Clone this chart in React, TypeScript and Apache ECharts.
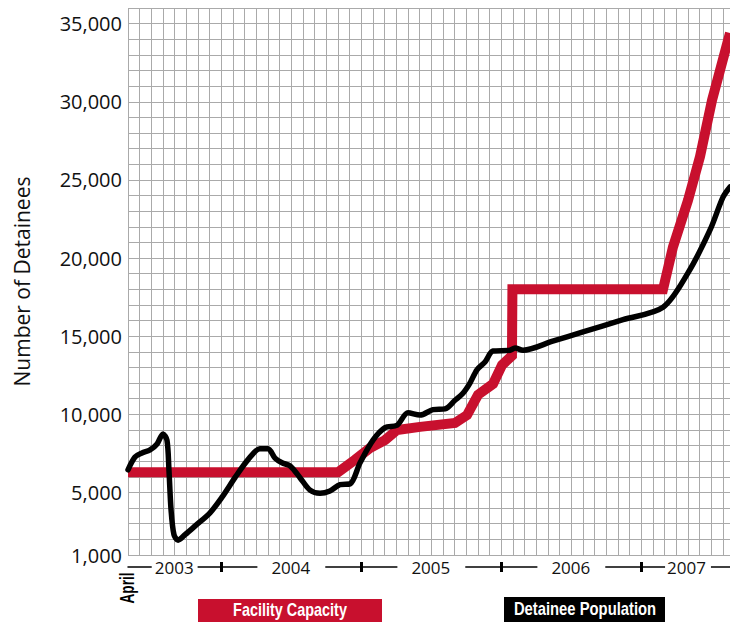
import React, { useEffect, useRef } from "react";
import * as echarts from "echarts";

// x values are months counted from the left edge of the plot (late April 2003)
const capacityMonths = [0, 18.0, 19.46, 20.74, 22.03, 23.06, 25.03, 28.03, 29.06, 30.0, 31.29, 32.06, 32.91, 32.95, 45.86, 46.71, 48.0, 49.03, 50.06, 51.6];
const capacityValues = [6300, 6300, 7100, 7850, 8350, 9000, 9200, 9450, 9950, 11250, 11950, 13150, 13750, 18000, 18000, 20700, 23700, 26500, 30100, 34400];

const populationMonths = [0, 0.6, 1.2, 1.89, 2.49, 3.0, 3.34, 3.51, 3.69, 3.94, 4.29, 4.89, 5.74, 7.03, 8.06, 9.17, 10.29, 11.31, 12.0, 12.6, 13.2, 13.89, 14.74, 15.6, 16.46, 17.31, 18.17, 19.03, 19.89, 21.0, 22.03, 23.06, 24.0, 25.03, 26.14, 27.17, 28.03, 28.71, 29.31, 29.91, 30.6, 31.29, 32.74, 33.17, 33.86, 36.4, 39.0, 42.43, 45.86, 48.0, 49.89, 51.0, 51.6];
const populationValues = [6450, 7270, 7530, 7720, 8100, 8750, 8350, 6450, 3900, 2300, 1950, 2300, 2850, 3700, 4700, 5950, 7100, 7800, 7800, 7200, 6900, 6700, 5950, 5150, 4950, 5100, 5500, 5550, 6900, 8350, 9150, 9300, 10100, 9950, 10300, 10350, 10900, 11350, 12000, 12850, 13350, 14050, 14100, 14250, 14100, 14680, 15270, 16060, 16850, 19050, 21800, 23900, 24550];

const yLabelValues = [1000, 5000, 10000, 15000, 20000, 25000, 30000, 35000];
const yLabelTexts = ["1,000", "5,000", "10,000", "15,000", "20,000", "25,000", "30,000", "35,000"];

const yearLabels = ["2003", "2004", "2005", "2006", "2007"];
const yearLabelMonths = [4, 14, 26, 38, 48];
const yearTickMonths = [8, 20, 32, 44];

const seriesNames = ["Facility Capacity", "Detainee Population"];

const RED = "#c8102e";
const X_MAX = 51.6;

export default function App() {
  const ref = useRef<HTMLDivElement>(null);
  useEffect(() => {
    document.body.style.margin = "0";
    if (!ref.current) return;
    const chart = echarts.init(ref.current, undefined, { renderer: "svg" });
    const font = "'Open Sans', 'Noto Sans', sans-serif";
    const narrow = "'Liberation Sans', Arial, sans-serif";
    const yearAxisBase = {
      type: "value",
      min: 0,
      max: X_MAX,
      interval: 1,
      position: "bottom",
      offset: 12,
      splitLine: { show: false },
    };
    chart.setOption({
      animation: false,
      backgroundColor: "#ffffff",
      grid: { left: 128, top: 8, right: 0, bottom: 67 },
      xAxis: [
        {
          type: "value",
          min: 0,
          max: X_MAX,
          interval: 1,
          axisLine: { show: false },
          axisTick: { show: false },
          axisLabel: { show: false },
          splitLine: { show: true, lineStyle: { color: "#aaaaaa", width: 1 } },
        },
        {
          ...yearAxisBase,
          axisLine: { show: true, lineStyle: { color: "#000", width: 1.5 } },
          axisTick: { show: true, customValues: yearTickMonths, length: 5, lineStyle: { color: "#000", width: 3 } },
          axisLabel: {
            show: true,
            customValues: yearLabelMonths,
            margin: 0,
            verticalAlign: "middle",
            formatter: (v: number) => {
              const i = yearLabelMonths.indexOf(v);
              if (i < 0) return "";
              if (i === 0) return `{a|${yearLabels[i]}}`;
              if (i === yearLabels.length - 1) return `{c|${yearLabels[i]}}`;
              return `{b|${yearLabels[i]}}`;
            },
            rich: {
              a: { backgroundColor: "#fff", padding: [2, 4, 2, 3], fontSize: 17, fontFamily: font, color: "#111" },
              b: { backgroundColor: "#fff", padding: [2, 15, 2, 14], fontSize: 17, fontFamily: font, color: "#111" },
              c: { backgroundColor: "#fff", padding: [2, 5, 2, 2], fontSize: 17, fontFamily: font, color: "#111" },
            },
          },
        },
        {
          ...yearAxisBase,
          axisLine: { show: false },
          axisTick: { show: true, inside: true, customValues: yearTickMonths, length: 5, lineStyle: { color: "#000", width: 3 } },
          axisLabel: { show: false },
        },
      ],
      yAxis: {
        type: "value",
        min: 1000,
        max: 36000,
        interval: 1000,
        name: "Number of Detainees",
        nameLocation: "middle",
        nameGap: 96,
        nameTextStyle: { fontSize: 21, fontFamily: font, color: "#111" },
        axisLine: { show: false },
        axisTick: { show: false },
        axisLabel: {
          customValues: yLabelValues,
          margin: 6,
          fontSize: 20,
          fontFamily: font,
          color: "#111",
          formatter: (v: number) => {
            const i = yLabelValues.indexOf(v);
            return i >= 0 ? yLabelTexts[i] : "";
          },
        },
        splitLine: { show: true, lineStyle: { color: "#aaaaaa", width: 1 } },
      },
      series: [
        {
          name: seriesNames[0],
          type: "line",
          xAxisIndex: 0,
          showSymbol: false,
          data: capacityMonths.map((m, i) => [m, capacityValues[i]]),
          lineStyle: { color: RED, width: 10, join: "miter" },
          z: 2,
        },
        {
          name: seriesNames[1],
          type: "line",
          xAxisIndex: 0,
          showSymbol: false,
          smooth: 0.3,
          data: populationMonths.map((m, i) => [m, populationValues[i]]),
          lineStyle: { color: "#000", width: 5.5, cap: "round", join: "round" },
          z: 3,
        },
      ],
      graphic: [
        {
          type: "text",
          x: 127,
          y: 588,
          rotation: Math.PI / 2,
          scaleX: 0.65,
          style: { text: "April", fontSize: 21, fontWeight: "bold", fontFamily: narrow, fill: "#000", textAlign: "center", textVerticalAlign: "middle" },
        },
        { type: "rect", shape: { x: 198, y: 599, width: 184, height: 23 }, style: { fill: RED } },
        {
          type: "text",
          x: 290,
          y: 610,
          scaleX: 0.78,
          style: { text: seriesNames[0], fontSize: 18.5, fontWeight: "bold", fontFamily: narrow, fill: "#fff", textAlign: "center", textVerticalAlign: "middle" },
        },
        { type: "rect", shape: { x: 504, y: 597, width: 161, height: 25 }, style: { fill: "#000" } },
        {
          type: "text",
          x: 585,
          y: 609,
          scaleX: 0.8,
          style: { text: seriesNames[1], fontSize: 18.5, fontWeight: "bold", fontFamily: narrow, fill: "#fff", textAlign: "center", textVerticalAlign: "middle" },
        },
      ],
    });
    return () => chart.dispose();
  }, []);
  return <div ref={ref} style={{ width: 730, height: 622 }} />;
}
